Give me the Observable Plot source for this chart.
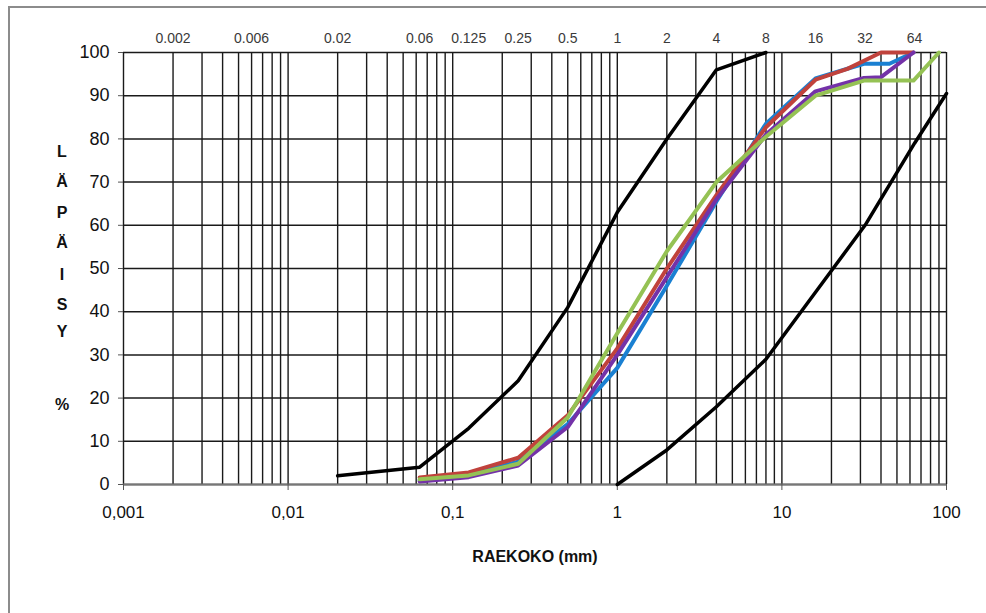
<!DOCTYPE html>
<html>
<head>
<meta charset="utf-8">
<script src="https://cdn.jsdelivr.net/npm/d3@7"></script>
<script src="https://cdn.jsdelivr.net/npm/@observablehq/plot@0.6"></script>
<style>
  body { margin: 0; background: #fff; font-family: "Liberation Sans", Arial, sans-serif; }
  #wrap { position: relative; width: 986px; height: 613px; overflow: hidden; background: #fff; }
  #frame { position: absolute; left: 8px; top: 6px; width: 1400px; height: 1000px; border: 2px solid #8c8c8c; box-sizing: border-box; pointer-events: none; }
  #chart { position: absolute; left: 0; top: 0; }
  .ylet { position: absolute; left: 50px; width: 24px; text-align: center; font-weight: bold; font-size: 16px; line-height: 16px; color: #111; }
  #xlabel { position: absolute; left: 435px; width: 200px; top: 548px; text-align: center; font-weight: bold; font-size: 16px; color: #111; }
</style>
</head>
<body>
<div id="wrap">
  <div id="chart"></div>
  <div id="frame"></div>
  <div id="ytitle"></div>
  <div id="xlabel">RAEKOKO (mm)</div>
</div>
<script>
// ---- data ----
const xTickValues = [0.001, 0.01, 0.1, 1, 10, 100];
const xTickLabels = ["0,001", "0,01", "0,1", "1", "10", "100"];
const yTickValues = [0, 10, 20, 30, 40, 50, 60, 70, 80, 90, 100];
const topLabelValues = [0.002, 0.006, 0.02, 0.063, 0.125, 0.25, 0.5, 1, 2, 4, 8, 16, 32, 64];
const topLabelTexts = ["0.002", "0.006", "0.02", "0.06", "0.125", "0.25", "0.5", "1", "2", "4", "8", "16", "32", "64"];
const yTitleLetters = ["L", "Ä", "P", "Ä", "I", "S", "Y", "%"];

// envelope curves (black)
const upperX = [0.02, 0.063, 0.125, 0.25, 0.5, 1, 2, 4, 8];
const upperY = [2, 4, 13, 24, 41, 63, 80, 96, 100];
const lowerX = [1, 2, 4, 8, 16, 32, 64, 100];
const lowerY = [0, 8, 18, 29, 44.5, 60, 79, 90.5];

// sample curves
const blueX = [0.063, 0.125, 0.25, 0.5, 1, 2, 4, 8, 16, 31.5, 45, 63];
const blueY = [1, 2.2, 5.3, 14, 27, 46, 65.5, 83.5, 94, 97.4, 97.4, 100];
const redX = [0.063, 0.125, 0.25, 0.5, 1, 2, 4, 8, 16, 25, 40, 63];
const redY = [1.6, 2.8, 6.2, 16, 31.5, 50, 67, 82.7, 93.7, 96.2, 100, 100];
const purpleX = [0.063, 0.125, 0.25, 0.5, 1, 2, 4, 8, 16, 31.5, 40, 63];
const purpleY = [0.7, 1.7, 4.4, 13.3, 30, 48, 66, 81, 91, 94.1, 94.3, 100];
const greenX = [0.063, 0.125, 0.25, 0.5, 1, 2, 4, 8, 16, 31.5, 63, 90];
const greenY = [1.2, 2.1, 4.8, 15.5, 35, 54, 70, 80.5, 90, 93.5, 93.5, 100];

const seriesColors = { blue: "#1a80d2", red: "#c0423c", purple: "#7432a8", green: "#95c254" };

// ---- build ----
const toRows = (xs, ys) => xs.map((x, i) => ({ x, y: ys[i] }));

// log grid lines (1..9 per decade)
const gridX = [];
for (const d of xTickValues.slice(0, -1)) for (let k = 1; k <= 9; k++) gridX.push(d * k);
gridX.push(100);

const chart = Plot.plot({
  width: 986,
  height: 613,
  marginLeft: 123,
  marginRight: 40,
  marginTop: 52,
  marginBottom: 129,
  style: { fontFamily: "'Liberation Sans', Arial, sans-serif", background: "transparent" },
  x: { type: "log", domain: [0.001, 100] },
  y: { domain: [0, 100] },
  marks: [
    Plot.ruleX(gridX, { stroke: "#1a1a1a", strokeWidth: 1.4 }),
    Plot.ruleY(yTickValues, { stroke: "#1a1a1a", strokeWidth: 1.5 }),
    Plot.ruleY([0], { stroke: "#777", strokeWidth: 2 }),
    Plot.axisY(yTickValues, { tickSize: 5, tickPadding: 9, fontSize: 18, label: null, stroke: "#555", color: "#111" }),
    Plot.axisX(xTickValues, { tickSize: 6, tickPadding: 15, fontSize: 17, label: null, stroke: "#555", color: "#111",
      tickFormat: d => xTickLabels[xTickValues.indexOf(d)] }),
    Plot.text(topLabelValues, { x: d => d, frameAnchor: "top", dy: -19, text: d => topLabelTexts[topLabelValues.indexOf(d)], fontSize: 14, fill: "#3a3a3a" }),
    Plot.line(toRows(upperX, upperY), { x: "x", y: "y", stroke: "#000", strokeWidth: 3.5 }),
    Plot.line(toRows(lowerX, lowerY), { x: "x", y: "y", stroke: "#000", strokeWidth: 3.5 }),
    Plot.line(toRows(blueX, blueY), { x: "x", y: "y", stroke: seriesColors.blue, strokeWidth: 4 }),
    Plot.line(toRows(redX, redY), { x: "x", y: "y", stroke: seriesColors.red, strokeWidth: 4 }),
    Plot.line(toRows(purpleX, purpleY), { x: "x", y: "y", stroke: seriesColors.purple, strokeWidth: 4 }),
    Plot.line(toRows(greenX, greenY), { x: "x", y: "y", stroke: seriesColors.green, strokeWidth: 4 })
  ]
});
document.getElementById("chart").appendChild(chart);

// vertical y-axis title letters
const yTitleTops = [144, 174, 205, 235, 267, 297, 324, 397];
const yt = document.getElementById("ytitle");
yTitleLetters.forEach((ch, i) => {
  const el = document.createElement("div");
  el.className = "ylet";
  el.style.top = yTitleTops[i] + "px";
  el.textContent = ch;
  yt.appendChild(el);
});
</script>
</body>
</html>
